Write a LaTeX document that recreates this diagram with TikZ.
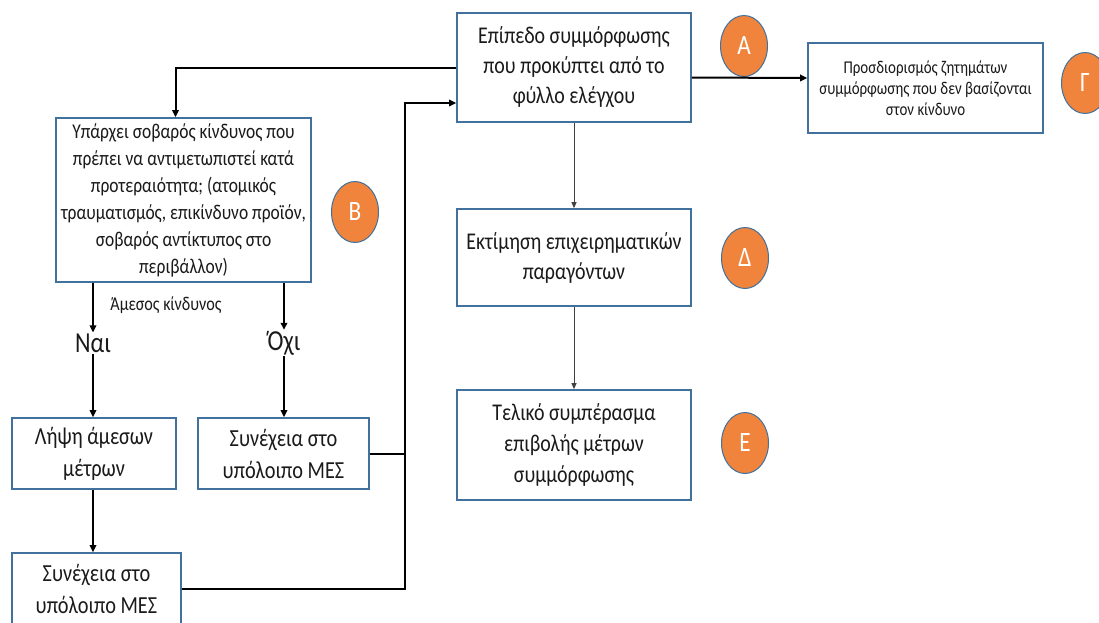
\documentclass[tikz,border=0pt]{standalone}
\usepackage{fontspec}
\setmainfont{Carlito}[FakeStretch=0.83]
\usetikzlibrary{arrows.meta}
\usetikzlibrary{shapes.geometric}
\definecolor{boxblue}{HTML}{41719C}
\definecolor{badgeorange}{HTML}{F0843C}
\definecolor{ink}{HTML}{1A1A1A}

\begin{document}
\begin{tikzpicture}[x=1pt, y=-1pt]
        % ================= styles =================
        \tikzset{
            % boxes
            box/.style={rectangle, draw=boxblue, line width=1.7pt, fill=white, align=center, text=ink, inner sep=0pt},
            % orange letters
            badge/.style={ellipse, draw=boxblue, line width=1pt, fill=badgeorange, minimum width=47pt, minimum height=61pt, inner sep=0pt, text=white, font=\fontsize{28}{30}\selectfont},
            % connectors
            link/.style={line width=2pt, black},
            flow/.style={link, -{Triangle[length=7pt, width=6.5pt]}},
            thinflow/.style={line width=1pt, black!75, -{Triangle[length=6pt, width=5pt]}},
            answer/.style={text=ink, inner sep=1pt, font=\fontsize{29}{32}\selectfont}
        }

        % page
        \fill[white] (0,0) rectangle (1099,622);
        \useasboundingbox (0,0) rectangle (1099,622);

        % ================= central column =================
        \node[box, minimum width=234pt, minimum height=109pt, font=\fontsize{24}{30}\selectfont] (level) at (574,67.5)
            {Επίπεδο συμμόρφωσης\\που προκύπτει από το\\φύλλο ελέγχου};
        \node[box, minimum width=234pt, minimum height=97pt, font=\fontsize{24}{30}\selectfont] (factors) at (574,257.5)
            {Εκτίμηση επιχειρηματικών\\παραγόντων};
        \node[box, minimum width=234pt, minimum height=110pt, font=\fontsize{24}{31}\selectfont] (final) at (574,445)
            {Τελικό συμπέρασμα\\επιβολής μέτρων\\συμμόρφωσης};

        % right box
        \node[box, minimum width=235pt, minimum height=90pt, font=\fontsize{18}{21}\selectfont] (nonrisk) at (925.5,88)
            {Προσδιορισμός ζητημάτων\\συμμόρφωσης που δεν βασίζονται\\στον κίνδυνο};

        % ================= left branch =================
        \node[box, minimum width=255pt, minimum height=164pt, font=\fontsize{21}{27}\selectfont] (risk) at (183.5,200)
            {Υπάρχει σοβαρός κίνδυνος που\\πρέπει να αντιμετωπιστεί κατά\\προτεραιότητα; (ατομικός\\τραυματισμός, επικίνδυνο προϊόν,\\σοβαρός αντίκτυπος στο\\περιβάλλον)};
        \node[answer] (yes) at (93,343) {Ναι};
        \node[answer] (no) at (284,343) {Όχι};
        \node[text=ink, inner sep=0pt, font=\fontsize{19.5}{22}\selectfont] (urgent) at (166,305) {Άμεσος κίνδυνος};
        \node[box, minimum width=164pt, minimum height=71pt, font=\fontsize{24.5}{32}\selectfont] (measures) at (94,453.5)
            {Λήψη άμεσων\\μέτρων};
        \node[box, minimum width=171pt, minimum height=71pt, font=\fontsize{24.5}{32}\selectfont] (contR) at (283.5,453.5)
            {Συνέχεια στο\\υπόλοιπο ΜΕΣ};
        \node[box, minimum width=169pt, minimum height=71pt, font=\fontsize{24.5}{32}\selectfont] (contL) at (96.5,588.5)
            {Συνέχεια στο\\υπόλοιπο ΜΕΣ};

        % ================= letters =================
        \node[badge] (bA) at (744,46) {Α};
        \node[badge] (bB) at (355,212) {Β};
        \node[badge] (bG) at (1085,83) {Γ};
        \node[badge] (bD) at (745,258) {Δ};
        \node[badge] (bE) at (745,443) {Ε};

        % ================= connectors =================
        \coordinate (bend) at (405,103);
        \draw[flow] (level.west) -| ([xshift=-8pt]risk.north);
        \draw[flow] ([yshift=-10pt]level.east) -- ([yshift=10pt]nonrisk.west);
        \draw[thinflow] (level.south) -- (factors.north);
        \draw[thinflow] (factors.south) -- (final.north);

        \draw[flow] (risk.south -| yes) -- (yes.north);
        \draw[flow] (risk.south -| no) -- (no.north);
        \draw[flow] (yes.south) -- (measures.north -| yes);
        \draw[flow] (no.south) -- (contR.north -| no);
        \draw[flow] (measures.south -| yes) -- (contL.north -| yes);

        \draw[link] (contR.east) -- (contR.east -| bend);
        \draw[flow] (contL.east) -| (bend) -- ([yshift=-35.5pt]level.west);
\end{tikzpicture}
\end{document}
